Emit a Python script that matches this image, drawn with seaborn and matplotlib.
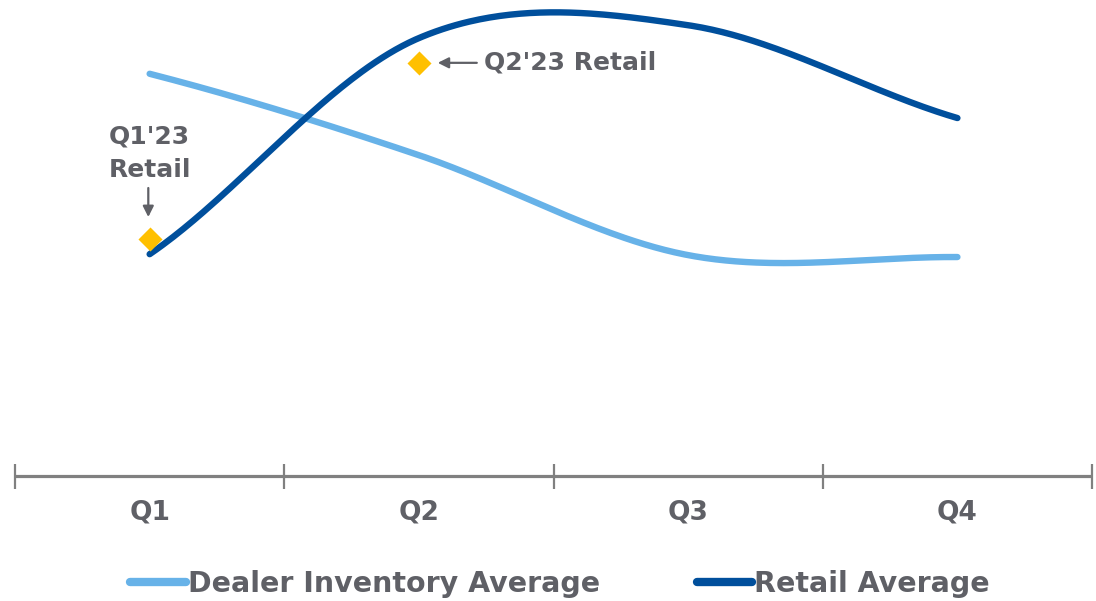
import numpy as np
import pandas as pd
import seaborn as sns
import matplotlib.pyplot as plt
from matplotlib.lines import Line2D

quarters = ["Q1", "Q2", "Q3", "Q4"]
dealer_avg = [84.5, 67.4, 46.4, 46.0]
retail_avg = [46.6, 92.0, 94.7, 75.2]
series_names = ["Dealer Inventory Average", "Retail Average"]
marker_pos = [0, 1]
marker_vals = [49.8, 86.8]
marker_labels = ["Q1'23\nRetail", "Q2'23 Retail"]

LIGHT = "#67b2e8"
DARK = "#004f9c"
GOLD = "#ffc000"
GRAY = "#5f6066"
AXIS = "#808080"


def smooth(vals, n=80):
    p = np.asarray(vals, float)
    k = len(p)
    m = np.empty(k)
    for i in range(k):
        if i == 0:
            m[i] = (p[1] - p[0]) * 0.85
        elif i == k - 1:
            m[i] = (p[-1] - p[-2]) * 0.85
        else:
            m[i] = (p[i + 1] - p[i - 1]) / 2.0
    xs, ys = [], []
    for i in range(k - 1):
        t = np.linspace(0, 1, n, endpoint=(i == k - 2))
        h00 = 2 * t**3 - 3 * t**2 + 1
        h10 = t**3 - 2 * t**2 + t
        h01 = -2 * t**3 + 3 * t**2
        h11 = t**3 - t**2
        ys.append(h00 * p[i] + h10 * m[i] + h01 * p[i + 1] + h11 * m[i + 1])
        xs.append(i + t)
    return np.concatenate(xs), np.concatenate(ys)


frames = []
for name, vals in zip(series_names, [dealer_avg, retail_avg]):
    x, y = smooth(vals)
    frames.append(pd.DataFrame({"x": x, "y": y, "series": name}))
df = pd.concat(frames, ignore_index=True)

sns.set_theme(style="white")
plt.rcParams["font.family"] = ["DejaVu Sans"]

fig = plt.figure(figsize=(10.96, 6.01), dpi=100)
ax = fig.add_axes([0.0137, 0.208, 0.9827, 0.792])

palette = {series_names[0]: LIGHT, series_names[1]: DARK}
sns.lineplot(data=df, x="x", y="y", hue="series", palette=palette,
             linewidth=4.6, sort=False, estimator=None, legend=False, ax=ax)
for ln in ax.get_lines():
    ln.set_solid_capstyle("round")

ax.scatter(marker_pos, marker_vals, marker="D", s=150, color=GOLD,
           zorder=5, linewidths=0)

ax.set_xlim(-0.5, 3.5)
ax.set_ylim(0, 100)
ax.set_xlabel("")
ax.set_ylabel("")
ax.set_yticks([])

ax.set_xticks(np.arange(-0.5, 4.0, 1.0))
ax.set_xticklabels([])
ax.set_xticks(np.arange(len(quarters)), minor=True)
ax.set_xticklabels(quarters, minor=True, fontsize=19, fontweight="bold", color=GRAY)
ax.tick_params(axis="x", which="major", direction="inout", length=18,
               width=1.6, color=AXIS, bottom=True)
ax.tick_params(axis="x", which="minor", length=0, pad=17)

for s in ["top", "left", "right"]:
    ax.spines[s].set_visible(False)
ax.spines["bottom"].set_color(AXIS)
ax.spines["bottom"].set_linewidth(2.3)
ax.spines["bottom"].set_capstyle("butt")

# annotations
ax.text(0, 67.9, marker_labels[0], ha="center", va="center", fontsize=18,
        fontweight="bold", color=GRAY, linespacing=1.5)
ax.annotate("", xy=(-0.005, 54.4), xytext=(-0.005, 60.5),
            arrowprops=dict(arrowstyle="-|>", color=GRAY, lw=1.6,
                            mutation_scale=16, shrinkA=0, shrinkB=0))
ax.text(1.24, 86.8, marker_labels[1], ha="left", va="center", fontsize=18,
        fontweight="bold", color=GRAY)
ax.annotate("", xy=(1.07, 86.8), xytext=(1.215, 86.8),
            arrowprops=dict(arrowstyle="-|>", color=GRAY, lw=1.6,
                            mutation_scale=16, shrinkA=0, shrinkB=0))

handles = [Line2D([0], [0], color=LIGHT, lw=6, solid_capstyle="round"),
           Line2D([0], [0], color=DARK, lw=6, solid_capstyle="round")]
leg = fig.legend(handles, series_names, loc="center", bbox_to_anchor=(0.511, 0.029),
                 ncol=2, frameon=False, handlelength=1.95, handletextpad=0.07,
                 columnspacing=3.4, borderpad=0, prop=dict(size=20.5, weight="bold"))
for t in leg.get_texts():
    t.set_color(GRAY)

fig.savefig("out.png", dpi=100)
